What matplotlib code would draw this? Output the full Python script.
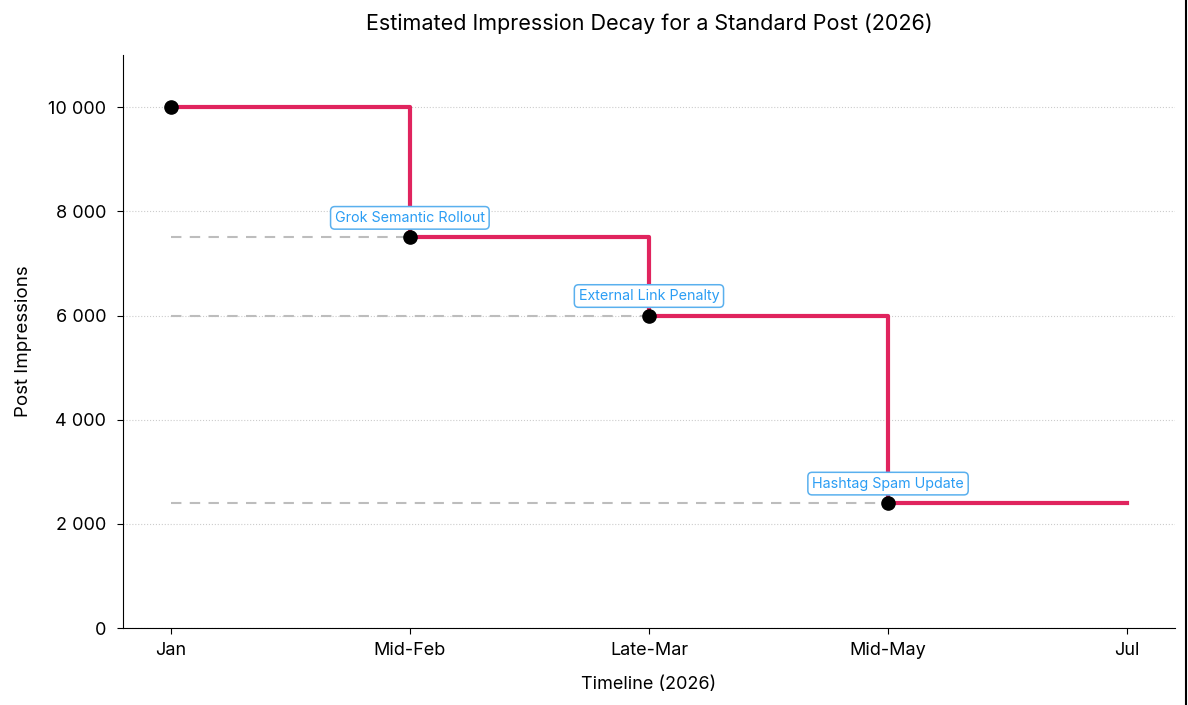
import matplotlib
matplotlib.use("Agg")
import matplotlib.pyplot as plt
from matplotlib.ticker import FuncFormatter
from matplotlib.lines import Line2D

plt.rcParams["font.family"] = ["Inter", "DejaVu Sans"]

periods = ["Jan", "Mid-Feb", "Late-Mar", "Mid-May", "Jul"]
impressions = [10000, 7500, 6000, 2400, 2400]
event_idx = [1, 2, 3]
event_labels = ["Grok Semantic Rollout", "External Link Penalty", "Hashtag Spam Update"]

LINE_COLOR = "#e0245e"
NOTE_COLOR = "#2a9df4"

x = list(range(len(periods)))

fig = plt.figure(figsize=(11.88, 7.05), dpi=100)
ax = fig.add_axes([0.1035, 0.109, 0.8855, 0.813])

# dashed guides from the start to each drop
for i in event_idx:
    ax.plot([x[0], x[i]], [impressions[i], impressions[i]], color="#bdbdbd",
            lw=1.5, ls=(0, (5, 4)), zorder=1)

ax.step(x, impressions, where="post", color=LINE_COLOR, lw=3, zorder=2)
ax.plot(x[:4], impressions[:4], "o", color="black", ms=9.5, zorder=3)

for i, label in zip(event_idx, event_labels):
    ax.annotate(label, (x[i], impressions[i]), xytext=(0, 9),
                textcoords="offset points", ha="center", va="bottom",
                fontsize=10.3, color=NOTE_COLOR, zorder=4,
                bbox=dict(boxstyle="round,pad=0.3", fc="white", ec="#5ab0ee", lw=1.1))

ax.set_xlim(-0.2, 4.2)
ax.set_ylim(0, 11000)
ax.set_xticks(x)
ax.set_xticklabels(periods)
ax.set_yticks(range(0, 11000, 2000))
ax.yaxis.set_major_formatter(FuncFormatter(lambda v, p: f"{int(v):,}".replace(",", " ")))
ax.tick_params(labelsize=13, length=4)
ax.tick_params(axis="y", pad=8)
ax.tick_params(axis="x", pad=6)
ax.grid(axis="y", ls=":", color="#cccccc", lw=0.8)
ax.set_axisbelow(True)
for s in ["top", "right"]:
    ax.spines[s].set_visible(False)

ax.set_xlabel("Timeline (2026)", fontsize=13, labelpad=12)
ax.set_ylabel("Post Impressions", fontsize=13.5, labelpad=12)
ax.set_title("Estimated Impression Decay for a Standard Post (2026)", fontsize=15.5, pad=18)

# border line at the right edge of the screenshot
fig.add_artist(Line2D([0.9985, 0.9985], [0, 1], color="black", lw=1.5, transform=fig.transFigure))

fig.savefig("out.png", dpi=100)
